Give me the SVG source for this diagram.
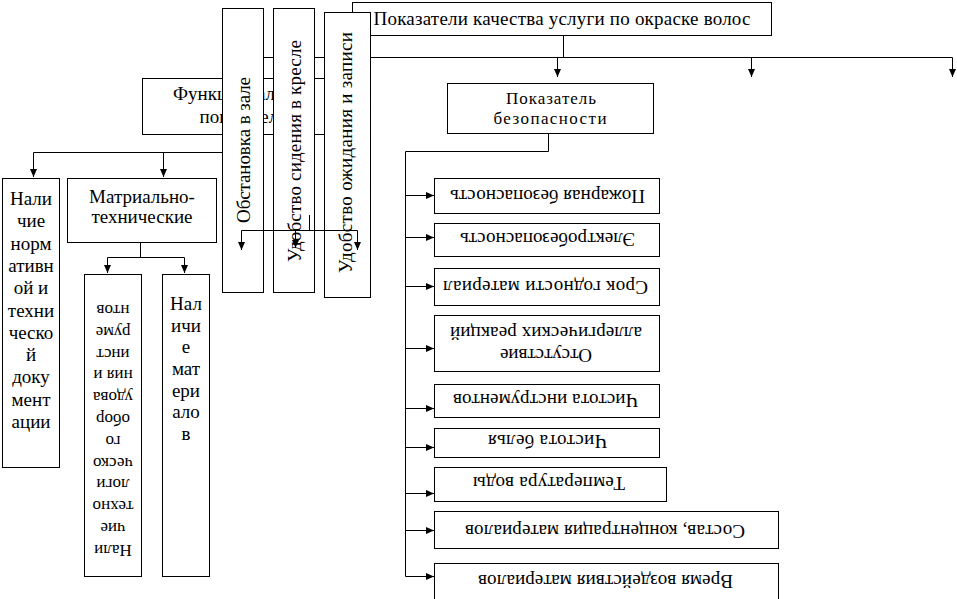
<svg xmlns="http://www.w3.org/2000/svg" width="957" height="599" viewBox="0 0 957 599">
<style>
.b{fill:#fff;stroke:#000;stroke-width:1}
.t{font-family:"Liberation Serif","Times New Roman",serif;font-size:19px;fill:#000;text-anchor:middle}
.s{font-size:17px}
.c{fill:none;stroke:#000;stroke-width:1}
.a{marker-end:url(#ah)}
</style>
<defs>
<marker id="ah" markerWidth="8" markerHeight="8" refX="8" refY="3.5" orient="auto" markerUnits="userSpaceOnUse"><path d="M0,0 L8,3.5 L0,7 z" fill="#000"/></marker>
</defs>
<rect width="957" height="599" fill="#fff"/>
<g id="title"><rect class="b" x="352.5" y="2.5" width="419" height="33"/><text class="t" x="562" y="25" textLength="377" lengthAdjust="spacing">Показатели качества услуги по окраске волос</text></g>
<g id="func"><rect class="b" x="142.5" y="78.5" width="203" height="56"/><text class="t" x="244" y="100">Функциональные</text><text class="t" x="244" y="123">показатели</text></g>
<g id="obst"><rect class="b" x="222.5" y="8.5" width="41" height="284"/><text class="t" x="250" y="150" transform="rotate(-90 250 150)" textLength="146" lengthAdjust="spacing">Обстановка в зале</text></g>
<g id="sid"><rect class="b" x="273.5" y="8.5" width="41" height="284"/><text class="t" x="301" y="151" transform="rotate(-90 301 151)" textLength="222" lengthAdjust="spacing">Удобство сидения в кресле</text></g>
<g id="ozh"><rect class="b" x="324.5" y="12.5" width="46" height="285"/><text class="t" x="352" y="152.5" transform="rotate(-90 352 152.5)" textLength="241" lengthAdjust="spacing">Удобство ожидания и записи</text></g>
<g id="safety"><rect class="b" x="447.5" y="83.5" width="206" height="50"/><text class="t s" x="551" y="104" textLength="90" lengthAdjust="spacing">Показатель</text><text class="t s" x="550" y="124" textLength="113" lengthAdjust="spacing">безопасности</text></g>
<g id="norm"><rect class="b" x="2.5" y="178.5" width="57" height="289"/>
<text class="t" x="31"><tspan x="31" y="205">Нали</tspan><tspan x="31" y="227.3">чие</tspan><tspan x="31" y="249.6">норм</tspan><tspan x="31" y="271.9">ативн</tspan><tspan x="31" y="294.2">ой и</tspan><tspan x="31" y="316.5">техни</tspan><tspan x="31" y="338.8">ческо</tspan><tspan x="31" y="361.1">й</tspan><tspan x="31" y="383.4">доку</tspan><tspan x="31" y="405.7">мент</tspan><tspan x="31" y="428">ации</tspan></text></g>
<g id="mat"><rect class="b" x="67.5" y="178.5" width="149" height="64"/><text class="t" x="142" y="203">Матриально-</text><text class="t" x="142" y="223">технические</text></g>
<g id="tech"><rect class="b" x="84.5" y="274.5" width="57" height="302"/>
<text class="t s" x="113" y="544.8" transform="rotate(180 113 544.8)">Нали</text>
<text class="t s" x="113" y="523" transform="rotate(180 113 523)">чие</text>
<text class="t s" x="113" y="501.2" transform="rotate(180 113 501.2)">техно</text>
<text class="t s" x="113" y="479.4" transform="rotate(180 113 479.4)">логи</text>
<text class="t s" x="113" y="457.6" transform="rotate(180 113 457.6)">ческо</text>
<text class="t s" x="113" y="435.8" transform="rotate(180 113 435.8)">го</text>
<text class="t s" x="113" y="414" transform="rotate(180 113 414)">обор</text>
<text class="t s" x="113" y="392.2" transform="rotate(180 113 392.2)">удова</text>
<text class="t s" x="113" y="370.4" transform="rotate(180 113 370.4)">ния и</text>
<text class="t s" x="113" y="348.6" transform="rotate(180 113 348.6)">инст</text>
<text class="t s" x="113" y="326.8" transform="rotate(180 113 326.8)">руме</text>
<text class="t s" x="113" y="305" transform="rotate(180 113 305)">нтов</text></g>
<g id="matr"><rect class="b" x="162.5" y="274.5" width="47" height="302"/>
<text class="t"><tspan x="186" y="310">Нал</tspan><tspan x="186" y="331.7">ичи</tspan><tspan x="186" y="353.3">е</tspan><tspan x="186" y="375">мат</tspan><tspan x="186" y="396.7">ери</tspan><tspan x="186" y="418.3">ало</tspan><tspan x="186" y="440">в</tspan></text></g>
<g id="r1"><rect class="b" x="434.5" y="178.5" width="225" height="35"/><text class="t" x="547.5" y="190" transform="rotate(180 547.5 190)" textLength="195" lengthAdjust="spacing">Пожарная безопасность</text></g>
<g id="r2"><rect class="b" x="434.5" y="223.5" width="225" height="33"/><text class="t" x="547.5" y="233" transform="rotate(180 547.5 233)" textLength="175" lengthAdjust="spacing">Электробезопасность</text></g>
<g id="r3"><rect class="b" x="434.5" y="268.5" width="225" height="37"/><text class="t" x="545.5" y="281" transform="rotate(180 545.5 281)" textLength="205" lengthAdjust="spacing">Срок годности материал</text></g>
<g id="r4"><rect class="b" x="434.5" y="315.5" width="225" height="56"/><text class="t" x="546" y="349" transform="rotate(180 546 349)" textLength="92" lengthAdjust="spacing">Отсутствие</text><text class="t" x="546" y="327" transform="rotate(180 546 327)" textLength="192" lengthAdjust="spacing">аллергических реакций</text></g>
<g id="r5"><rect class="b" x="434.5" y="384.5" width="225" height="33"/><text class="t" x="545.5" y="394" transform="rotate(180 545.5 394)" textLength="185" lengthAdjust="spacing">Чистота инструментов</text></g>
<g id="r6"><rect class="b" x="434.5" y="428.5" width="225" height="29"/><text class="t" x="547.5" y="435" transform="rotate(180 547.5 435)" textLength="119" lengthAdjust="spacing">Чистота белья</text></g>
<g id="r7"><rect class="b" x="434.5" y="467.5" width="232" height="34"/><text class="t" x="549" y="477" transform="rotate(180 549 477)" textLength="152" lengthAdjust="spacing">Температура воды</text></g>
<g id="r8"><rect class="b" x="434.5" y="511.5" width="344" height="37"/><text class="t" x="605" y="525" transform="rotate(180 605 525)" textLength="280" lengthAdjust="spacing">Состав, концентрация материалов</text></g>
<g id="r9"><rect class="b" x="434.5" y="563.5" width="344" height="40"/><text class="t" x="605.5" y="575" transform="rotate(180 605.5 575)" textLength="255" lengthAdjust="spacing">Время воздействия материалов</text></g>
<g id="connectors">
<path class="c" d="M563.5,35.5 V57.5 M263.5,57.5 H273.5 M314.5,57.5 H324.5 M370.5,57.5 H952.5"/>
<path class="c a" d="M557.5,57.5 V77"/>
<path class="c a" d="M751.5,57.5 V77"/>
<path class="c a" d="M952.5,57.5 V77"/>
<path class="c" d="M222.5,57.5 V152.5 H33.5"/>
<path class="c a" d="M33.5,152.5 V177"/>
<path class="c a" d="M163.5,152.5 V177"/>
<path class="c" d="M140.5,242.5 V257.5 M107.5,257.5 H184.5"/>
<path class="c a" d="M107.5,257.5 V273"/>
<path class="c a" d="M184.5,257.5 V273"/>
<path class="c" d="M241.5,230.5 H357.5 M309.5,215 V230.5"/>
<path class="c a" d="M241.5,230.5 V250"/>
<path class="c a" d="M295.5,230.5 V248"/>
<path class="c a" d="M357.5,230.5 V250"/>
<path class="c" d="M548.5,133.5 V151.5 H405.5 V576.5"/>
<path class="c a" d="M405.5,195.5 H434"/>
<path class="c a" d="M405.5,237.5 H434"/>
<path class="c a" d="M405.5,286.5 H434"/>
<path class="c a" d="M405.5,348.5 H434"/>
<path class="c a" d="M405.5,408.5 H434"/>
<path class="c a" d="M405.5,447.5 H434"/>
<path class="c a" d="M405.5,493.5 H434"/>
<path class="c a" d="M405.5,530.5 H434"/>
<path class="c a" d="M405.5,576.5 H434"/>
</g>
</svg>
